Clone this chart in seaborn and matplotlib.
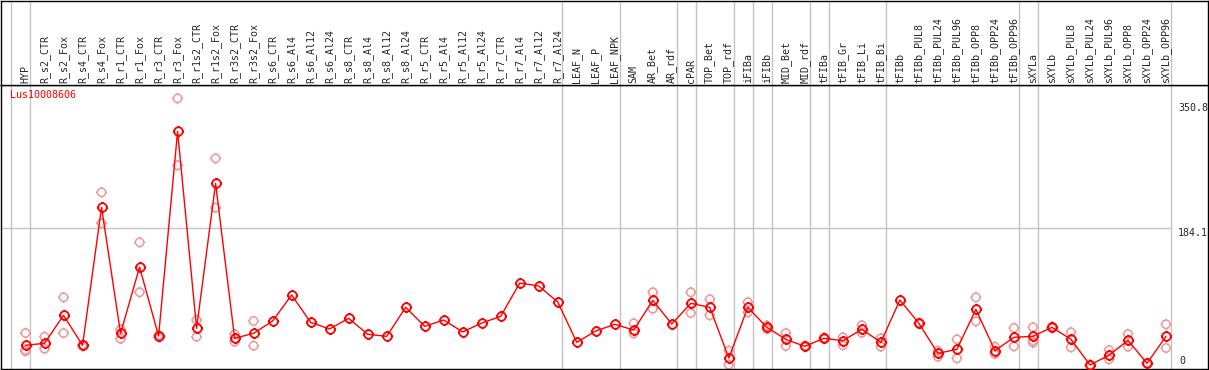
import numpy as np
import pandas as pd
import matplotlib
matplotlib.use("Agg")
import matplotlib.pyplot as plt
from matplotlib.path import Path
import seaborn as sns

# sample names along the x axis
samples = ["HYP", "R_s2_CTR", "R_s2_Fox", "R_s4_CTR", "R_s4_Fox", "R_r1_CTR", "R_r1_Fox",
           "R_r3_CTR", "R_r3_Fox", "R_r1s2_CTR", "R_r1s2_Fox", "R_r3s2_CTR", "R_r3s2_Fox",
           "R_s6_CTR", "R_s6_Al4", "R_s6_Al12", "R_s6_Al24", "R_s8_CTR", "R_s8_Al4",
           "R_s8_Al12", "R_s8_Al24", "R_r5_CTR", "R_r5_Al4", "R_r5_Al12", "R_r5_Al24",
           "R_r7_CTR", "R_r7_Al4", "R_r7_Al12", "R_r7_Al24", "LEAF_N", "LEAF_P", "LEAF_NPK",
           "SAM", "AR_Bet", "AR_rdf", "cPAR", "TOP_Bet", "TOP_rdf", "iFIBa", "iFIBb",
           "MID_Bet", "MID_rdf", "tFIBa", "tFIB_Gr", "tFIB_Li", "tFIB_Bi", "tFIBb",
           "tFIBb_PUL8", "tFIBb_PUL24", "tFIBb_PUL96", "tFIBb_OPP8", "tFIBb_OPP24",
           "tFIBb_OPP96", "sXYLa", "sXYLb", "sXYLb_PUL8", "sXYLb_PUL24", "sXYLb_PUL96",
           "sXYLb_OPP8", "sXYLb_OPP24", "sXYLb_OPP96"]

# mean expression per sample
means = [28.1, 30.7, 68.0, 28.1, 211.6, 44.0, 132.2, 40.4, 312.7, 50.7, 243.6, 37.4, 44.0,
         60.4, 95.0, 58.6, 49.8, 64.0, 42.7, 40.0, 78.6, 53.3, 61.7, 45.8, 57.7, 66.6,
         110.9, 107.0, 85.7, 32.0, 47.1, 56.0, 48.4, 87.9, 56.4, 83.9, 78.6, 11.2, 78.6,
         52.0, 36.0, 26.7, 37.4, 34.2, 49.3, 32.0, 88.3, 57.3, 17.4, 22.7, 76.0, 20.9,
         38.7, 40.0, 52.0, 36.0, 1.9, 14.8, 34.7, 4.1, 40.0]

# replicate values per sample (empty where none shown)
replicates = [[44.4, 21.8, 20.1], [39.5, 23.6], [91.9, 44.4], [29.0, 27.0], [231.6, 190.4],
              [49.3, 36.9], [165.1, 98.6], [41.5, 38.8], [356.6, 267.5], [61.7, 39.5],
              [276.8, 211.1], [43.1, 32.9], [60.4, 27.5],
              [], [], [], [], [], [], [], [], [], [], [], [], [], [], [], [], [], [], [],
              [57.3, 44.0], [98.6, 76.8], [], [98.6, 71.0], [89.3, 68.0], [20.9, 2.3],
              [85.3, 72.0], [54.5, 49.5], [44.4, 27.1], [27.5, 26.0], [38.5, 36.5],
              [38.7, 28.1], [54.7, 44.8], [37.4, 26.2], [], [58.0, 56.5], [20.9, 12.9],
              [36.0, 10.8], [91.9, 60.0], [26.2, 16.5], [51.1, 26.7], [52.0, 34.5, 31.5],
              [53.0, 51.0], [45.4, 25.4], [2.5, 1.3], [21.8, 9.4], [43.1, 26.2],
              [4.5, 3.7], [56.0, 24.5]]

# last sample of each group (separator lines drawn after these)
group_ends = [-1, 0, 28, 31, 34, 35, 37, 38, 39, 41, 42, 45, 52, 53, 60]

y_max_label = 350.8
y_mid_label = 184.1
gene = "Lus10008606"

pos = np.arange(len(samples))
df_mean = pd.DataFrame({"pos": pos, "value": means})
df_rep = pd.DataFrame([(i, v) for i, reps in enumerate(replicates) for v in reps],
                      columns=["pos", "value"])

sns.set_style("white")
plt.rcParams["font.family"] = ["DejaVu Sans Mono", "DejaVu Sans"]

# open circle with four small ticks
circ = Path.unit_circle()
ticks = Path([(0, 1), (0, 1.3), (0, -1), (0, -1.3), (1, 0), (1.3, 0), (-1, 0), (-1.3, 0)],
             [Path.MOVETO, Path.LINETO] * 4)
tick_marker = Path.make_compound_path(circ, ticks)

red = "#FF0000"
pink = "#EE9999"
grey = "#C4C4C4"

W, H = 1209, 370
fig = plt.figure(figsize=(W / 100, H / 100), dpi=100)
xl = (-1.316, 62.21)
ax = fig.add_axes([0.5 / W, 1 / H, 1207.5 / W, 283.7 / H])
hx = fig.add_axes([0.5 / W, 284.7 / H, 1207.5 / W, 84.8 / H], sharex=ax)

for a in (ax, hx):
    for e in group_ends:
        a.axvline(e + 0.25, color=grey, lw=1.0, zorder=0)
    for s in a.spines.values():
        s.set_color("black")
        s.set_linewidth(1.0)
    a.set_xticks([])
    a.set_yticks([])
    a.set_xlabel("")
    a.set_ylabel("")

ax.hlines(y_mid_label, xl[0], group_ends[-1] + 0.25, color=grey, lw=1.0, zorder=0)

sns.scatterplot(data=df_rep, x="pos", y="value", ax=ax, marker=tick_marker, s=60,
                color=pink, linewidth=1.1, zorder=2, legend=False)
sc = ax.collections[-1]
sc.set_facecolor("none")
sc.set_edgecolor(pink)

sns.lineplot(data=df_mean, x="pos", y="value", ax=ax, color=red, lw=1.0,
             marker=tick_marker, ms=8, mfc="none", mec=red, mew=1.3, zorder=3)

ax.set_xlim(*xl)
ax.set_ylim(-3.46, 374.0)
ax.set_xlabel("")
ax.set_ylabel("")
ax.set_xticks([])
ax.set_yticks([])

ax.text(9.5 / 1207.5, 0.983, gene, transform=ax.transAxes, color=red, fontsize=7.2,
        ha="left", va="top")

lab_x = (1178 - 26) / 19
ax.text(lab_x, y_max_label, f"{y_max_label}", fontsize=7.2, ha="left", va="top")
ax.text(lab_x, y_mid_label, f"{y_mid_label}", fontsize=7.2, ha="left", va="top")
ax.text(lab_x + 0.05, 0, "0", fontsize=7.2, ha="left", va="bottom")

hx.set_ylim(0, 1)
for i, name in enumerate(samples):
    hx.text(i, 2.5 / 84.8, name, rotation=90, ha="center", va="bottom", fontsize=7.2)

fig.savefig("out.png", dpi=100)
